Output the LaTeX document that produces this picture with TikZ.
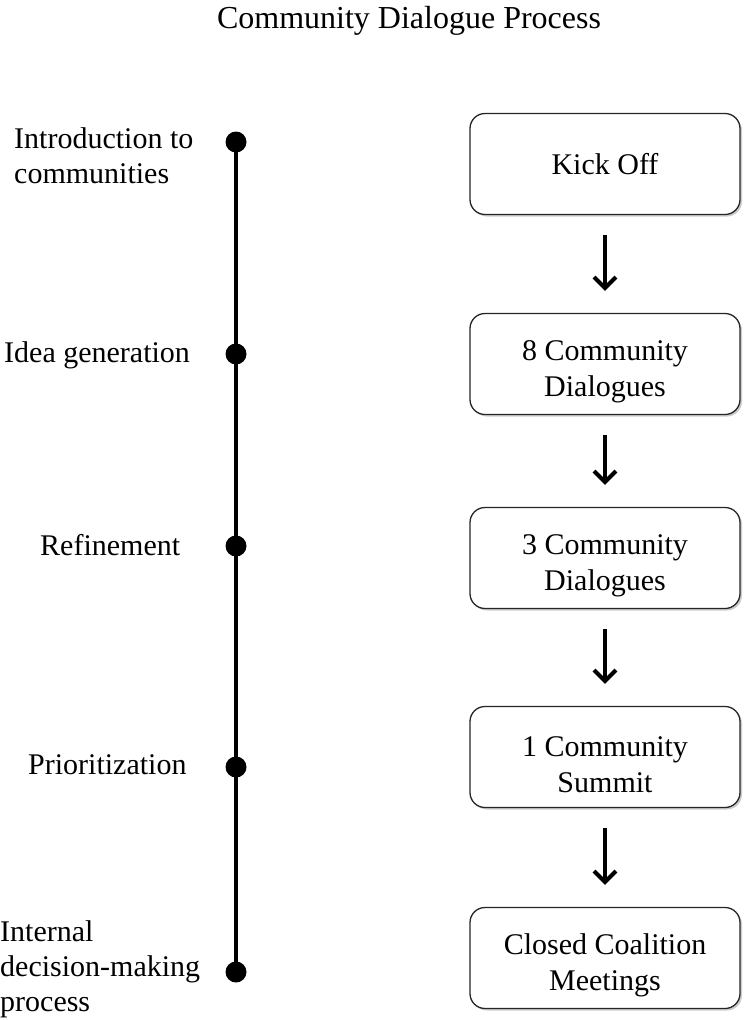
\documentclass[tikz,border=0pt]{standalone}
\usepackage{fontspec}
\setmainfont{Liberation Serif}
\usetikzlibrary{arrows.meta,shadows}

\tikzset{
  stagebox/.style={draw=black!85, line width=1.3pt, fill=white, rounded corners=15pt,
    minimum width=270pt, minimum height=101pt, align=center,
    font=\fontsize{30}{36}\selectfont,
    drop shadow={shadow xshift=2pt, shadow yshift=-2pt, fill=black!40, opacity=0.5}},
  twoline/.style={text height=71pt, inner ysep=0pt},
  stagedot/.style={circle, fill=black, inner sep=0pt, minimum size=21pt},
  phaselabel/.style={anchor=base west, inner sep=0pt, align=left, font=\fontsize{30}{35}\selectfont},
  steparrow/.style={-{Straight Barb[length=11pt,width=22pt]}, line width=4pt, shorten <=20pt, shorten >=22pt}
}

\begin{document}
\begin{tikzpicture}[x=1pt, y=-1pt]
    \useasboundingbox (0,0) rectangle (745,1020);

    % Title
    \node[anchor=base, inner sep=0pt, font=\fontsize{32}{38}\selectfont] (title) at (409,28) {Community Dialogue Process};

    % Timeline on the left: dots and the line through them
    \node[stagedot] (d1) at (236,142) {};
    \node[stagedot] (d2) at (236,354) {};
    \node[stagedot] (d3) at (236,546) {};
    \node[stagedot] (d4) at (236,767) {};
    \node[stagedot] (d5) at (236,972) {};
    \draw[line width=4pt] (d1.center) -- (d5.center);

    % Phase labels
    \node[phaselabel] (intro) at (14,183) {Introduction to\\communities};
    \node[phaselabel] (idea) at (4,362) {Idea generation};
    \node[phaselabel] (refine) at (40,555) {Refinement};
    \node[phaselabel] (prior) at (28,774) {Prioritization};
    \node[phaselabel] (internal) at (0,1011) {Internal\\decision-making\\process};

    % Meeting boxes on the right
    \node[stagebox] (kick) at (605,164) {Kick Off};
    \node[stagebox, twoline] (dial8) at (605,364) {8 Community\\Dialogues};
    \node[stagebox, twoline] (dial3) at (605,558) {3 Community\\Dialogues};
    \node[stagebox, twoline] (summit) at (605,757) {1 Community\\Summit};
    \node[stagebox, twoline] (closed) at (605,958) {Closed Coalition\\Meetings};

    % Arrows between the boxes
    \draw[steparrow] (kick) -- (dial8);
    \draw[steparrow] (dial8) -- (dial3);
    \draw[steparrow] (dial3) -- (summit);
    \draw[steparrow] (summit) -- (closed);
\end{tikzpicture}
\end{document}
